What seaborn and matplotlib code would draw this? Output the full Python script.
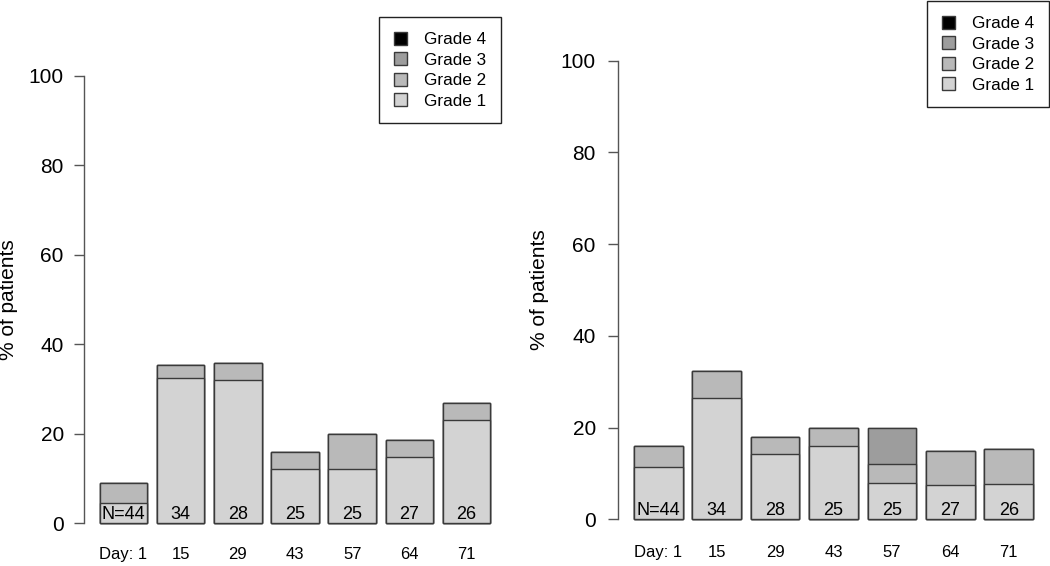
import numpy as np
import pandas as pd
import matplotlib.pyplot as plt
import seaborn as sns
from matplotlib.patches import Patch

# --- DATA (percent of patients per grade, per visit day) ---
days = ["Day: 1", "15", "29", "43", "57", "64", "71"]
n_labels = ["N=44", "34", "28", "25", "25", "27", "26"]
grades = ["Grade 1", "Grade 2", "Grade 3", "Grade 4"]

left_g1 = [4.5, 32.4, 32.1, 12.0, 12.0, 14.8, 23.1]
left_g2 = [4.5, 2.9, 3.6, 4.0, 8.0, 3.7, 3.8]
left_g3 = [0, 0, 0, 0, 0, 0, 0]
left_g4 = [0, 0, 0, 0, 0, 0, 0]

right_g1 = [11.4, 26.5, 14.3, 16.0, 8.0, 7.4, 7.7]
right_g2 = [4.5, 5.9, 3.6, 4.0, 4.0, 7.4, 7.7]
right_g3 = [0, 0, 0, 0, 8.0, 0, 0]
right_g4 = [0, 0, 0, 0, 0, 0, 0]

grade_colors = ["#d3d3d3", "#b9b9b9", "#9d9d9d", "#000000"]
edge_col = "#3a3a3a"
axis_col = "#555555"

sns.set_style("white")
plt.rcParams["font.family"] = ["Liberation Sans", "DejaVu Sans"]
plt.rcParams["text.color"] = "black"
plt.rcParams["axes.labelcolor"] = "black"

W, H = 1050, 566
fig = plt.figure(figsize=(W / 100, H / 100), dpi=100)


def draw_panel(ax, per_grade, tick_pad, xlab_pad, ylab_x):
    df = pd.DataFrame({"day": days})
    cum = np.cumsum(np.array(per_grade, dtype=float), axis=0)
    for i, g in enumerate(grades):
        df[g] = cum[i]

    # stacked look: draw cumulative bars from the top grade down
    for i in reversed(range(len(grades))):
        sns.barplot(data=df, x="day", y=grades[i], color=grade_colors[i],
                    saturation=1, width=1 / 1.2, edgecolor=edge_col,
                    linewidth=1, errorbar=None, ax=ax)

    # patient counts inside the bars
    for i, lab in enumerate(n_labels):
        ax.text(i, 0.9, lab, ha="center", va="baseline", fontsize=13)

    ax.set_xlim(-0.69, 6.69)
    ax.set_ylim(-4, 104)
    ax.set_yticks([0, 20, 40, 60, 80, 100])
    for s in ["top", "right", "bottom"]:
        ax.spines[s].set_visible(False)
    ax.spines["left"].set_bounds(0, 100)
    ax.spines["left"].set_color(axis_col)
    ax.spines["left"].set_linewidth(1)
    ax.tick_params(axis="y", direction="out", length=7.5, width=1,
                   color=axis_col, labelcolor="black", labelsize=15,
                   pad=tick_pad, left=True)
    ax.tick_params(axis="x", length=0, labelcolor="black", labelsize=12,
                   pad=xlab_pad)
    ax.set_xlabel("")
    ax.set_ylabel("% of patients", fontsize=15)
    ax.yaxis.set_label_coords(ylab_x, 0.5)


ax_l = fig.add_axes([84 / W, 25 / H, 422 / W, 483 / H])
ax_r = fig.add_axes([618 / W, 28.4 / H, 431 / W, 495.2 / H])

draw_panel(ax_l, [left_g1, left_g2, left_g3, left_g4], 7, 4, -0.156)
draw_panel(ax_r, [right_g1, right_g2, right_g3, right_g4], 8.5, 5.5, -0.161)

# legends, Grade 4 on top
handles = [Patch(facecolor=grade_colors[i], edgecolor=edge_col, linewidth=1,
                 label=grades[i]) for i in reversed(range(len(grades)))]
leg_kw = dict(loc="upper right", fontsize=12.3, frameon=True, fancybox=False,
              framealpha=1, edgecolor="#222222", handlelength=0.8,
              handleheight=0.8, handletextpad=1.0, labelspacing=0.3,
              borderpad=0.85, borderaxespad=0)
for anchor in [(501 / W, 1 - 17 / H), (1049 / W, 1 - 1 / H)]:
    leg = fig.legend(handles=handles, bbox_to_anchor=anchor, **leg_kw)
    leg.get_frame().set_linewidth(1)

plt.savefig("out.png", dpi=100)
plt.close()
